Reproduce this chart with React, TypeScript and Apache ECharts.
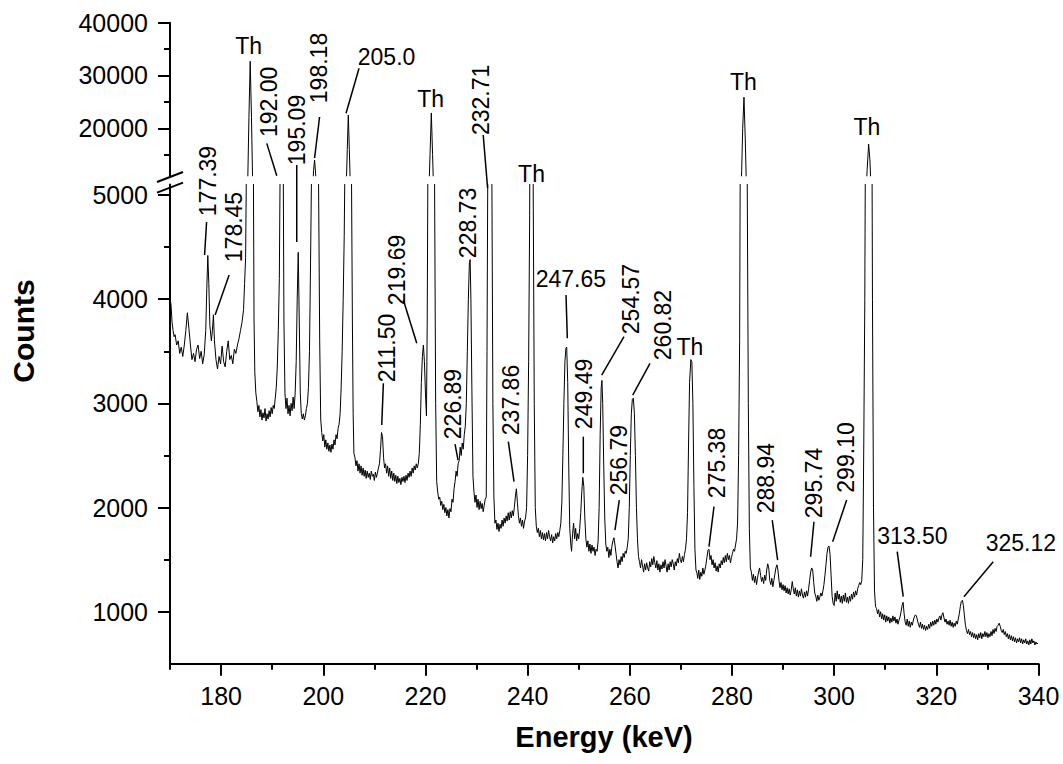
import React, { useEffect, useRef } from "react";
import * as echarts from "echarts";

// ---- spectrum: [energy keV, counts] ----
const spectrumA: [number, number][] = [
  [170.0,4000],[170.2,3950],[170.4,3780],[170.6,3700],[170.8,3640],[171.0,3660],[171.3,3560],[171.6,3600],[171.9,3480],[172.2,3540],[172.5,3450],[172.8,3560],[173.1,3700],[173.4,3870],[173.7,3720],[174.0,3560],[174.3,3420],[174.6,3480],[174.9,3400],[175.2,3520],[175.5,3560],[175.8,3430],[176.1,3500],[176.4,3380],[176.7,3470],[177.0,3700],[177.2,4100],[177.4,4420],[177.6,4150],[177.8,3750],[178.1,3600],[178.3,3700],[178.5,3850],[178.7,3600],[179.0,3420],[179.3,3330],[179.6,3450],[179.9,3380],[180.2,3550],[180.5,3400],[180.8,3350],[181.1,3500],[181.4,3600],[181.7,3420],[182.0,3460],[182.3,3380],[182.6,3520],[182.9,3480],[183.2,3560],[183.5,3620],[183.8,3700],[184.1,3780],[184.4,3900],[184.6,4150],[184.8,4400],[185.0,5500],[185.2,9000],[185.45,22000],[185.7,32700],[185.95,22000],[186.15,11000],[186.3,5500],[186.45,3800],[186.6,3300],[186.8,3100],
  [187.0,3020],[187.2,2920],[187.4,2980],[187.6,2870],[187.8,2940],[188.0,2840],[188.2,2910],[188.4,2860],[188.6,2950],[188.8,2830],[189.0,2900],[189.2,2850],[189.4,2930],[189.6,2870],[189.8,2960],[190.0,2900],[190.2,2980],[190.4,2950],[190.6,3050],[190.8,3150],[191.0,3350],[191.2,3700],[191.4,4200],[191.55,5200],[191.7,7500],[191.85,8800],[192.0,7800],[192.15,5500],[192.3,3800],[192.5,3100],
  [192.7,2950],[192.9,3050],[193.1,2900],[193.3,2980],[193.5,2880],[193.7,3000],[193.9,2930],[194.1,3060],[194.3,2950],[194.5,3100],[194.7,3400],[194.9,4000],[195.1,4450],[195.3,3800],[195.5,3100],[195.7,2900],[195.9,2850],[196.1,2900],[196.3,2840],[196.5,2880],[196.7,2950],[196.9,3000],[197.1,3150],[197.3,3500],[197.5,4300],[197.7,5200],[197.9,7500],[198.1,12000],[198.3,14000],[198.5,11500],[198.7,8000],[198.9,6000],[199.1,5000],[199.3,3600],[199.5,2850],[199.7,2720],[199.9,2640]
];

const spectrumB: [number, number][] = [
  [200.1,2700],[200.3,2580],[200.5,2650],[200.7,2560],[200.9,2620],[201.1,2540],[201.3,2600],[201.5,2530],[201.7,2610],[201.9,2560],[202.1,2650],[202.3,2600],[202.5,2700],[202.7,2660],[202.9,2760],[203.1,2800],[203.3,2900],[203.5,3150],[203.7,3500],[203.9,4000],[204.1,4600],[204.3,5600],[204.5,9000],[204.7,16000],[204.9,22500],[205.1,16000],[205.3,9000],[205.5,5400],[205.7,3800],[205.85,2900],[206.0,2520],
  [206.2,2480],[206.4,2400],[206.6,2450],[206.8,2350],[207.0,2420],[207.2,2330],[207.4,2400],[207.6,2310],[207.8,2380],[208.0,2300],[208.2,2360],[208.4,2280],[208.6,2350],[208.8,2290],[209.0,2330],[209.2,2270],[209.4,2350],[209.6,2300],[209.8,2320],[210.0,2260],[210.2,2340],[210.4,2290],[210.6,2330],[210.8,2380],[211.0,2420],[211.2,2550],[211.4,2720],[211.6,2680],[211.8,2480],[212.0,2380],
  [212.2,2420],[212.4,2330],[212.6,2400],[212.8,2300],[213.0,2380],[213.2,2280],[213.4,2350],[213.6,2260],[213.8,2330],[214.0,2250],[214.2,2310],[214.4,2230],[214.6,2300],[214.8,2240],[215.0,2280],[215.2,2220],[215.4,2290],[215.6,2250],[215.8,2300],[216.0,2240],[216.2,2310],[216.4,2260],[216.6,2330],[216.8,2290],[217.0,2350],[217.2,2300],[217.4,2380],[217.6,2330],[217.8,2400],[218.0,2360],[218.2,2420],[218.4,2380],[218.6,2420],[218.8,2520],[219.0,2800],[219.2,3200],[219.4,3450],[219.6,3560],[219.8,3400],[220.0,3100],[220.2,2880],
  [220.35,3800],[220.5,5500],[220.7,9000],[220.9,15000],[221.15,22900],[221.4,15000],[221.6,8000],[221.8,5000],[222.0,3000]
];

const spectrumC: [number, number][] = [
  [222.2,2250],[222.4,2150],[222.6,2080],[222.8,2100],[223.0,2020],[223.2,2060],[223.4,1980],[223.6,2030],[223.8,1950],[224.0,2000],[224.2,1920],[224.4,1980],[224.6,1900],[224.8,1990],[225.0,1960],[225.2,2080],[225.4,2050],[225.6,2180],[225.8,2250],[226.0,2350],[226.2,2300],[226.4,2420],[226.6,2450],[226.8,2580],[227.0,2500],[227.2,2620],[227.4,2560],[227.6,2700],[227.8,2780],[228.0,3000],[228.2,3500],[228.4,4000],[228.6,4350],[228.75,4380],[228.9,4000],[229.1,3100],[229.3,2300],
  [229.5,2150],[229.7,2050],[229.9,2120],[230.1,2000],[230.3,2080],[230.5,1980],[230.7,2060],[230.9,1990],[231.1,2040],[231.3,1960],[231.5,2020],[231.7,2080],[231.9,2100],[232.05,3500],[232.2,5200],[232.4,6500],[232.6,7000],[232.8,6500],[233.0,5200],[233.2,3000],[233.4,2100],[233.6,1850],
  [233.8,1880],[234.0,1790],[234.2,1850],[234.4,1770],[234.6,1840],[234.8,1800],[235.0,1880],[235.2,1820],[235.4,1900],[235.6,1850],[235.8,1920],[236.0,1870],[236.2,1950],[236.4,1880],[236.6,1960],[236.8,1900],[237.0,1970],[237.2,1920],[237.4,2000],[237.6,2100],[237.8,2180],[238.0,2050],[238.2,1920],[238.4,1850],[238.6,1900],[238.8,1820],[239.0,1880],[239.2,1800],[239.4,1870],[239.6,1900],[239.8,2000],
  [240.0,2500],[240.2,3400],[240.4,4800],[240.55,7000],[240.75,9000],[240.95,7000],[241.1,5000],[241.3,3000],[241.5,2000],[241.7,1820],
  [241.9,1760],[242.1,1800],[242.3,1720],[242.5,1780],[242.7,1700],[242.9,1760],[243.1,1690],[243.3,1750],[243.5,1680],[243.7,1760],[243.9,1700],[244.1,1780],[244.3,1720],[244.5,1680],[244.7,1740],[244.9,1660],[245.1,1720],[245.3,1680],[245.5,1750],[245.7,1700],[245.9,1760],[246.1,1720],[246.3,1780],[246.5,1850],[246.7,2050],[246.9,2500],[247.1,3000],[247.3,3400],[247.5,3530],[247.65,3540],[247.85,3200],[248.05,2400],[248.25,1800],[248.45,1650],[248.6,1580],
  [248.8,1750],[249.0,1850],[249.2,1700],[249.4,1800],[249.6,1680],[249.8,1750],[250.0,1700],[250.2,1800],[250.4,1950],[250.6,2150],[250.8,2290],[251.0,2200],[251.2,1900],[251.4,1700],[251.6,1620],[251.8,1680],[252.0,1580],[252.2,1650],[252.4,1560],[252.6,1640],[252.8,1580],[253.0,1620],[253.2,1540],[253.4,1600],[253.6,1580],[253.8,1680],[254.0,2000],[254.2,2700],[254.4,3150],[254.55,3220],[254.7,3000],[254.9,2400],[255.1,1900],[255.3,1650],
  [255.5,1580],[255.7,1620],[255.9,1520],[256.1,1600],[256.3,1540],[256.5,1630],[256.7,1680],[256.9,1710],[257.1,1640],[257.3,1560],[257.5,1480],[257.7,1420],[257.9,1500],[258.1,1450],[258.3,1530],[258.5,1480],[258.7,1560],[258.9,1520],[259.1,1580],[259.3,1560],[259.5,1620],[259.7,1700],[259.9,2000],[260.1,2500],[260.3,2900],[260.5,3040],[260.7,3050],[260.9,2900],[261.1,2500],[261.3,2000],[261.5,1700],[261.7,1530],[261.9,1480]
];

const spectrumD: [number, number][] = [
  [262.1,1420],[262.3,1500],[262.5,1440],[262.7,1380],[262.9,1460],[263.1,1400],[263.3,1470],[263.5,1420],[263.7,1390],[263.9,1480],[264.1,1430],[264.3,1510],[264.5,1450],[264.7,1530],[264.9,1470],[265.1,1420],[265.3,1490],[265.5,1400],[265.7,1460],[265.9,1380],[266.1,1450],[266.3,1410],[266.5,1480],[266.7,1420],[266.9,1500],[267.1,1440],[267.3,1380],[267.5,1460],[267.7,1400],[267.9,1480],[268.1,1430],[268.3,1500],[268.5,1460],[268.7,1400],[268.9,1480],[269.1,1440],[269.3,1510],[269.5,1470],[269.7,1560],[269.9,1500],[270.1,1470],[270.3,1530],[270.5,1480],[270.7,1550],[270.9,1600],
  [271.1,1700],[271.3,1950],[271.5,2600],[271.7,3200],[271.95,3420],[272.15,3400],[272.35,3000],[272.55,2200],[272.75,1600],[272.95,1400],[273.15,1370],
  [273.3,1320],[273.5,1400],[273.7,1310],[273.9,1380],[274.1,1340],[274.3,1420],[274.5,1360],[274.7,1400],[274.9,1450],[275.1,1520],[275.3,1590],[275.5,1600],[275.7,1500],[275.9,1540],[276.1,1450],[276.3,1500],[276.5,1420],[276.7,1470],[276.9,1390],[277.1,1440],[277.3,1380],[277.5,1460],[277.7,1420],[277.9,1490],[278.1,1450],[278.3,1520],[278.5,1470],[278.7,1540],[278.9,1480],[279.1,1560],[279.3,1500],[279.5,1540],[279.7,1470],[279.9,1520],[280.1,1560],[280.3,1600],[280.5,1580],[280.7,1640],[280.9,1700],
  [281.1,1850],[281.3,2500],[281.5,3600],[281.7,6500],[281.9,12000],[282.1,20000],[282.35,25900],[282.6,18000],[282.8,10000],[283.0,5000],[283.2,3000],[283.4,1800],[283.6,1420],
  [283.8,1380],[284.0,1300],[284.2,1360],[284.4,1280],[284.6,1340],[284.8,1260],[285.0,1320],[285.2,1380],[285.4,1420],[285.6,1350],[285.8,1290],[286.0,1330],[286.2,1270],[286.4,1350],[286.6,1300],[286.8,1400],[287.0,1460],[287.2,1420],[287.4,1300],[287.6,1260],[287.8,1320],[288.0,1240],[288.2,1300],[288.4,1360],[288.6,1420],[288.8,1450],[289.0,1400],[289.2,1300],[289.4,1230],[289.6,1280],[289.8,1210],[290.0,1260],[290.2,1200],[290.4,1250],[290.6,1180],[290.8,1230],[291.0,1170],[291.2,1220],[291.4,1160],[291.6,1210],[291.8,1290],[292.0,1220],[292.2,1170],[292.4,1230],[292.6,1150],[292.8,1210],[293.0,1140],[293.2,1200],[293.4,1150],[293.6,1220],[293.8,1160],[294.0,1130],[294.2,1190],[294.4,1140],[294.6,1200],[294.8,1150],
  [295.0,1220],[295.2,1300],[295.4,1380],[295.6,1420],[295.8,1400],[296.0,1280],[296.2,1180],[296.4,1150],[296.6,1100],[296.8,1160],[297.0,1110],[297.2,1140],[297.4,1180],[297.6,1150],[297.8,1200],[298.0,1260],[298.2,1350],[298.4,1450],[298.6,1560],[298.8,1620],[299.0,1630],[299.2,1550],[299.4,1350],[299.6,1150],[299.8,1080],[300.0,1060]
];

const spectrumE: [number, number][] = [
  [300.2,1180],[300.4,1100],[300.6,1200],[300.8,1120],[301.0,1170],[301.2,1090],[301.4,1150],[301.6,1080],[301.8,1160],[302.0,1100],[302.2,1180],[302.4,1090],[302.6,1140],[302.8,1080],[303.0,1150],[303.2,1100],[303.4,1170],[303.6,1120],[303.8,1190],[304.0,1140],[304.2,1200],[304.4,1160],[304.6,1220],[304.8,1250],[305.0,1280],[305.2,1260],[305.4,1300],
  [305.6,1500],[305.8,2600],[306.0,4000],[306.2,6500],[306.45,12000],[306.75,17000],[307.0,14000],[307.25,8000],[307.5,4000],[307.7,2000],[307.9,1200],[308.1,1050],
  [308.3,1030],[308.5,980],[308.7,1020],[308.9,950],[309.1,1000],[309.3,930],[309.5,980],[309.7,920],[309.9,970],[310.1,900],[310.3,960],[310.5,910],[310.7,950],[310.9,890],[311.1,940],[311.3,900],[311.5,960],[311.7,910],[311.9,950],[312.1,890],[312.3,930],[312.5,880],[312.7,920],[312.9,950],[313.1,1000],[313.3,1060],[313.5,1090],[313.7,980],[313.9,900],
  [314.1,870],[314.3,930],[314.5,860],[314.7,910],[314.9,850],[315.1,900],[315.3,870],[315.5,920],[315.7,950],[315.9,970],[316.1,960],[316.3,920],[316.5,880],[316.7,850],[316.9,900],[317.1,840],[317.3,880],[317.5,830],[317.7,870],[317.9,820],[318.1,860],[318.3,830],[318.5,880],[318.7,840],[318.9,900],[319.1,860],[319.3,910],[319.5,870],[319.7,920],[319.9,880],[320.1,930],[320.3,900],[320.5,940],[320.7,960],[320.9,920],[321.1,970],[321.3,990],[321.5,940],[321.7,900],[321.9,930],[322.1,880],[322.3,910],[322.5,870],[322.7,920],[322.9,860],[323.1,900],[323.3,850],[323.5,890],[323.7,860],[323.9,910],[324.1,880],[324.3,930],
  [324.5,980],[324.7,1050],[324.9,1100],[325.1,1110],[325.3,1060],[325.5,960],[325.7,870],[325.9,820],
  [326.1,790],[326.3,830],[326.5,780],[326.7,810],[326.9,760],[327.1,800],[327.3,750],[327.5,790],[327.7,740],[327.9,780],[328.1,730],[328.3,790],[328.5,750],[328.7,800],[328.9,740],[329.1,790],[329.3,760],[329.5,810],[329.7,760],[329.9,800],[330.1,750],[330.3,790],[330.5,760],[330.7,810],[330.9,770],[331.1,830],[331.3,790],[331.5,840],[331.7,810],[331.9,860],[332.1,870],[332.3,890],[332.5,860],[332.7,820],[332.9,800],[333.1,830],[333.3,780],[333.5,810],[333.7,760],[333.9,790],[334.1,740],[334.3,780],[334.5,730],[334.7,770],[334.9,720],[335.1,760],[335.3,710],[335.5,750],[335.7,700],[335.9,740],[336.1,710],[336.3,750],[336.5,700],[336.7,740],[336.9,690],[337.1,730],[337.3,700],[337.5,740],[337.7,690],[337.9,720],[338.1,680],[338.3,730],[338.5,690],[338.7,740],[338.9,700],[339.1,720],[339.3,680],[339.5,710],[339.7,690],[339.9,700]
];

// ---- axes ----
const xMajorTicks = [180, 200, 220, 240, 260, 280, 300, 320, 340];
const xMinorTicks = [170, 190, 210, 230, 250, 270, 290, 310, 330];
const yLowerMajor = [1000, 2000, 3000, 4000, 5000];
const yLowerMinor = [1500, 2500, 3500, 4500];
const yUpperMajor = [20000, 30000, 40000];
const yUpperMinor = [15000, 25000, 35000];

// ---- peak annotations ----
const peakLabels = ["177.39","178.45","Th","192.00","195.09","198.18","205.0","Th","211.50","219.69","226.89","228.73","232.71","237.86","Th","247.65","249.49","254.57","256.79","260.82","Th","275.38","Th","288.94","295.74","299.10","Th","313.50","325.12"];
const peakAnchorKeV = [176.77,178.83,185.68,190.9,194.81,198.30,204.46,221.15,211.45,218.30,226.38,228.24,232.17,237.34,240.76,247.77,250.9,254.5,257.1,260.57,272.11,275.50,282.31,288.94,295.40,299.71,306.89,313.52,325.40];
const peakAnchorCounts = [4424,3848,32743,11000,4549,14371,22838,22838,2792,3577,2456,4360,5065,2248,5087,3625,2329,3272,1784,3080,3400,1624,25982,1496,1528,1672,17023,1144,1144];
// layout: [vertical?, text dx, text dy, leader dx, leader dy] (pixels relative to anchor)
const labelLayout: [boolean, number, number, number | null, number | null][] = [
  [true,3.5,-74,2,-33],[true,19,-88,14,-40],[false,-1.5,-15.3,null,null],[true,-7.7,-74,-10,-32.4],[true,0,-112,0,-77],[true,4.5,-90,5,-41],[false,40.5,-56.6,13,-45],[false,-0.6,-14.1,null,null],
  [true,5,-77,1.6,-41.7],[true,-20,-73.3,-13.4,-43.3],[true,-5.5,-56,-3,-16],[true,0,-38.7,null,null],[true,-6.6,-88.3,-4.4,-53.3],[true,-3.2,-81.7,-5.7,-40],[false,0,-12,null,null],[false,3.5,-59.3,-1.3,-43.3],
  [true,0.9,-79.3,0,-36.6],[true,29.1,-76,22.3,-38.3],[true,4.2,-70,4.3,-30],[true,29.8,-70,17.3,-31.7],[false,-1.7,-15,null,null],[true,8.5,-83.7,5,-40],[false,-0.3,-15.2,null,null],[true,-11.9,-82,-5.4,-40],
  [true,3.5,-73.7,3.3,-35],[true,13.1,-84.2,14,-41.7],[false,-2.4,-17.5,null,null],[false,9.2,-60.7,-6,-45],[false,57,-53.7,29.3,-35]
];

const FONT = '"Liberation Sans", Arial, Helvetica, sans-serif';
const LOW_MIN = 500, LOW_MAX = 5100, UP_MIN = 11000, UP_MAX = 40000;

export default function App() {
  const ref = useRef<HTMLDivElement>(null);
  useEffect(() => {
    const el = ref.current;
    if (!el) return;
    const chart = echarts.init(el, null, { renderer: "svg" });
    const spectrum = [...spectrumA, ...spectrumB, ...spectrumC, ...spectrumD, ...spectrumE];
    const black = "#000";
    const fmt = (v: number) => String(v);
    const majorAxisY = (gi: number, min: number, max: number, vals: number[]) => ({
      type: "value", gridIndex: gi, min, max, position: "left",
      axisLine: { show: true, onZero: false, lineStyle: { color: black, width: 2 } },
      axisTick: { show: true, inside: false, length: 12, customValues: vals, lineStyle: { color: black, width: 2 } },
      axisLabel: { show: true, customValues: vals, formatter: fmt, color: black, fontSize: 25, fontFamily: FONT, margin: 22 },
      splitLine: { show: false },
    });
    const minorAxisY = (gi: number, min: number, max: number, vals: number[]) => ({
      type: "value", gridIndex: gi, min, max, position: "left", offset: 0,
      axisLine: { show: false },
      axisTick: { show: true, inside: false, length: 6, customValues: vals, lineStyle: { color: black, width: 2 } },
      axisLabel: { show: false },
      splitLine: { show: false },
    });
    const option: any = {
      animation: false,
      backgroundColor: "#fff",
      textStyle: { fontFamily: FONT },
      grid: [
        { left: 170, right: 24.5, top: 184.6, bottom: 100.2, containLabel: false },
        { left: 170, right: 24.5, top: 22.7, height: 153.1, containLabel: false },
      ],
      xAxis: [
        {
          type: "value", gridIndex: 0, min: 170, max: 340, position: "bottom",
          axisLine: { show: true, onZero: false, lineStyle: { color: black, width: 2 } },
          axisTick: { show: true, inside: false, length: 12, customValues: xMajorTicks, lineStyle: { color: black, width: 2 } },
          axisLabel: { show: true, customValues: xMajorTicks, formatter: fmt, color: black, fontSize: 25, fontFamily: FONT, margin: 20 },
          splitLine: { show: false },
        },
        {
          type: "value", gridIndex: 0, min: 170, max: 340, position: "bottom", offset: 0,
          axisLine: { show: false },
          axisTick: { show: true, inside: false, length: 6, customValues: xMinorTicks, lineStyle: { color: black, width: 2 } },
          axisLabel: { show: false },
          splitLine: { show: false },
        },
        { type: "value", gridIndex: 1, min: 170, max: 340, show: false, splitLine: { show: false } },
      ],
      yAxis: [
        majorAxisY(0, LOW_MIN, LOW_MAX, yLowerMajor),
        minorAxisY(0, LOW_MIN, LOW_MAX, yLowerMinor),
        majorAxisY(1, UP_MIN, UP_MAX, yUpperMajor),
        minorAxisY(1, UP_MIN, UP_MAX, yUpperMinor),
      ],
      series: [
        {
          type: "line", xAxisIndex: 0, yAxisIndex: 0, data: spectrum, showSymbol: false, symbol: "none",
          clip: true, lineStyle: { color: black, width: 1 }, silent: true,
        },
        {
          type: "line", xAxisIndex: 2, yAxisIndex: 2, data: spectrum, showSymbol: false, symbol: "none",
          clip: true, lineStyle: { color: black, width: 1 }, silent: true,
        },
      ],
    };
    chart.setOption(option);

    const toPx = (e: number, v: number): number[] => {
      if (v <= LOW_MAX) return chart.convertToPixel({ seriesIndex: 0 }, [e, v]) as number[];
      if (v >= UP_MIN) return chart.convertToPixel({ seriesIndex: 1 }, [e, v]) as number[];
      const a = chart.convertToPixel({ seriesIndex: 0 }, [e, LOW_MAX]) as number[];
      const b = chart.convertToPixel({ seriesIndex: 1 }, [e, UP_MIN]) as number[];
      const t = (v - LOW_MAX) / (UP_MIN - LOW_MAX);
      return [a[0], a[1] + (b[1] - a[1]) * t];
    };

    const graphics: any[] = [];
    peakLabels.forEach((label, i) => {
      const [ax, ay] = toPx(peakAnchorKeV[i], peakAnchorCounts[i]);
      const [vertical, tdx, tdy, ldx, ldy] = labelLayout[i];
      graphics.push({
        type: "text", x: ax + tdx, y: ay + tdy, rotation: vertical ? Math.PI / 2 : 0, silent: true,
        style: { text: label, fill: black, fontSize: 23, fontFamily: FONT, align: "center", verticalAlign: "middle" },
      });
      if (ldx !== null && ldy !== null) {
        graphics.push({
          type: "line", silent: true,
          shape: { x1: ax + ldx, y1: ay + ldy, x2: ax, y2: ay },
          style: { stroke: black, lineWidth: 1.5 },
        });
      }
    });

    // axis break marks
    const lowTop = toPx(170, LOW_MAX);
    const upBot = toPx(170, UP_MIN);
    const midY = (lowTop[1] + upBot[1]) / 2;
    const bx = lowTop[0];
    graphics.push(
      { type: "line", silent: true, shape: { x1: bx - 13, y1: midY + 1.8, x2: bx + 13, y2: midY - 8.2 }, style: { stroke: black, lineWidth: 2 } },
      { type: "line", silent: true, shape: { x1: bx - 13, y1: midY + 12.4, x2: bx + 13, y2: midY + 2.4 }, style: { stroke: black, lineWidth: 2 } },
    );

    // axis titles
    graphics.push(
      {
        type: "text", x: 23, y: 331, rotation: Math.PI / 2, silent: true,
        style: { text: "Counts", fill: black, fontSize: 30, fontWeight: "bold", fontFamily: FONT, align: "center", verticalAlign: "middle" },
      },
      {
        type: "text", x: 604, y: 737, silent: true,
        style: { text: "Energy (keV)", fill: black, fontSize: 29, fontWeight: "bold", fontFamily: FONT, align: "center", verticalAlign: "middle" },
      },
    );

    chart.setOption({ graphic: graphics });

    return () => {
      chart.dispose();
    };
  }, []);

  return (
    <div
      ref={ref}
      style={{ position: "absolute", left: 0, top: 0, width: 1063, height: 764, background: "#fff" }}
    />
  );
}
